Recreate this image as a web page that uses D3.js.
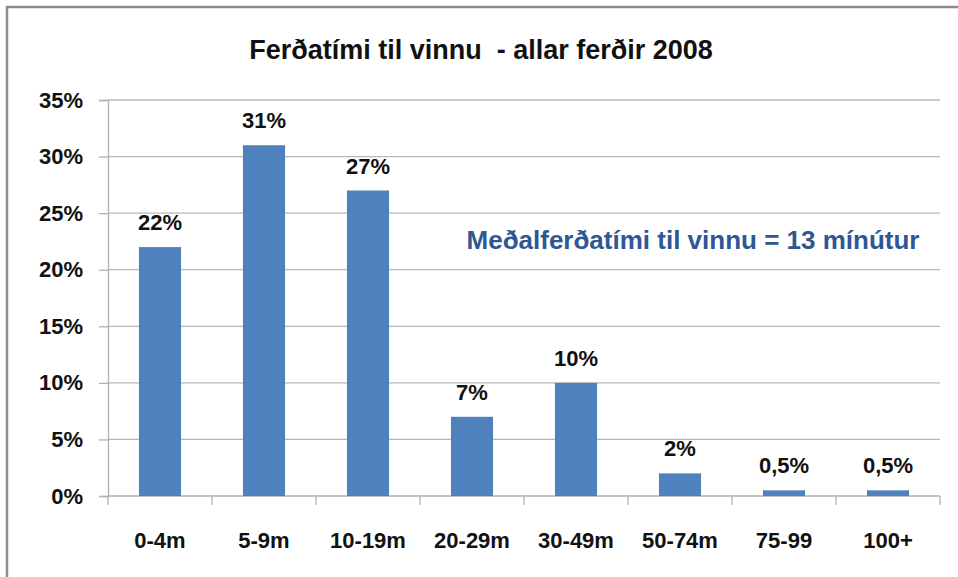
<!DOCTYPE html>
<html>
<head>
<meta charset="utf-8">
<script src="https://cdn.jsdelivr.net/npm/d3@7"></script>
<style>
  body { margin: 0; background: #fff; }
  svg { display: block; font-family: "Liberation Sans", Arial, sans-serif; }
</style>
</head>
<body>
<svg id="chart" width="958" height="577"></svg>
<script>
// data
const categories = ["0-4m", "5-9m", "10-19m", "20-29m", "30-49m", "50-74m", "75-99", "100+"];
const values = [22, 31, 27, 7, 10, 2, 0.5, 0.5];
const valueLabels = ["22%", "31%", "27%", "7%", "10%", "2%", "0,5%", "0,5%"];
const yTicks = [0, 5, 10, 15, 20, 25, 30, 35];

let svg = d3.select("#chart"),
    margin = {top: 100, right: 18, bottom: 81, left: 108},
    width = +svg.attr("width") - margin.left - margin.right,
    height = +svg.attr("height") - margin.top - margin.bottom;

// frame
svg.append("path")
   .attr("d", "M7,580 L7,7 L962,7")
   .attr("fill", "none")
   .attr("stroke", "#8c8c8c")
   .attr("stroke-width", 2.5);

let x = d3.scaleBand().domain(categories).range([0, width]).paddingInner(0.595).paddingOuter(0.2975),
    y = d3.scaleLinear().domain([0, 35]).range([height, 0]);

let g = svg.append("g")
           .attr("transform", "translate(" + margin.left + "," + margin.top + ")");

// gridlines
g.selectAll(".grid")
  .data(yTicks.slice(1))
  .enter().append("line")
    .attr("x1", 0).attr("x2", width)
    .attr("y1", d => y(d)).attr("y2", d => y(d))
    .attr("stroke", "#b8b8b8").attr("stroke-width", 1.3);

// y axis
let yAxis = g.append("g")
    .call(d3.axisLeft(y).tickValues(yTicks).tickSize(9).tickPadding(16).tickFormat(d => d + "%"));
yAxis.select(".domain").attr("stroke", "#b0b0b0").attr("stroke-width", 1.3);
yAxis.selectAll(".tick line").attr("stroke", "#b0b0b0").attr("stroke-width", 1.3);
yAxis.selectAll("text")
    .attr("font-size", 22).attr("font-weight", "bold").attr("fill", "#111")
    .attr("font-family", "Liberation Sans, Arial, sans-serif");

// x axis: ticks between categories
let xb = g.append("g").attr("transform", "translate(0," + height + ")");
xb.append("line").attr("x1", 0).attr("x2", width).attr("stroke", "#b0b0b0").attr("stroke-width", 1.3);
let step = x.step();
xb.selectAll(".xt")
  .data(d3.range(categories.length + 1))
  .enter().append("line")
    .attr("x1", i => i * step).attr("x2", i => i * step)
    .attr("y1", 0).attr("y2", 9)
    .attr("stroke", "#b0b0b0").attr("stroke-width", 1.3);
xb.selectAll(".xl")
  .data(categories)
  .enter().append("text")
    .attr("x", d => x(d) + x.bandwidth() / 2)
    .attr("y", 52)
    .attr("text-anchor", "middle")
    .attr("font-size", 22).attr("font-weight", "bold").attr("fill", "#111")
    .text(d => d);

// bars
g.selectAll(".bar")
  .data(values)
  .enter().append("rect")
    .attr("class", "bar")
    .attr("x", (d, i) => x(categories[i]))
    .attr("y", d => y(d))
    .attr("width", x.bandwidth())
    .attr("height", d => height - y(d))
    .attr("fill", "#4f81bd");

// value labels
g.selectAll(".vl")
  .data(values)
  .enter().append("text")
    .attr("x", (d, i) => x(categories[i]) + x.bandwidth() / 2)
    .attr("y", d => y(d) - 17)
    .attr("text-anchor", "middle")
    .attr("font-size", 22).attr("font-weight", "bold").attr("fill", "#111")
    .text((d, i) => valueLabels[i]);

// title
svg.append("text")
   .attr("x", 481).attr("y", 59)
   .attr("text-anchor", "middle")
   .attr("font-size", 27).attr("font-weight", "bold").attr("fill", "#111")
   .text("Ferðatími til vinnu  - allar ferðir 2008")
   .attr("xml:space", "preserve").style("white-space", "pre");

// annotation
svg.append("text")
   .attr("x", 693).attr("y", 249)
   .attr("text-anchor", "middle")
   .attr("font-size", 26).attr("font-weight", "bold").attr("fill", "#2f5794")
   .text("Meðalferðatími til vinnu = 13 mínútur");
</script>
</body>
</html>
